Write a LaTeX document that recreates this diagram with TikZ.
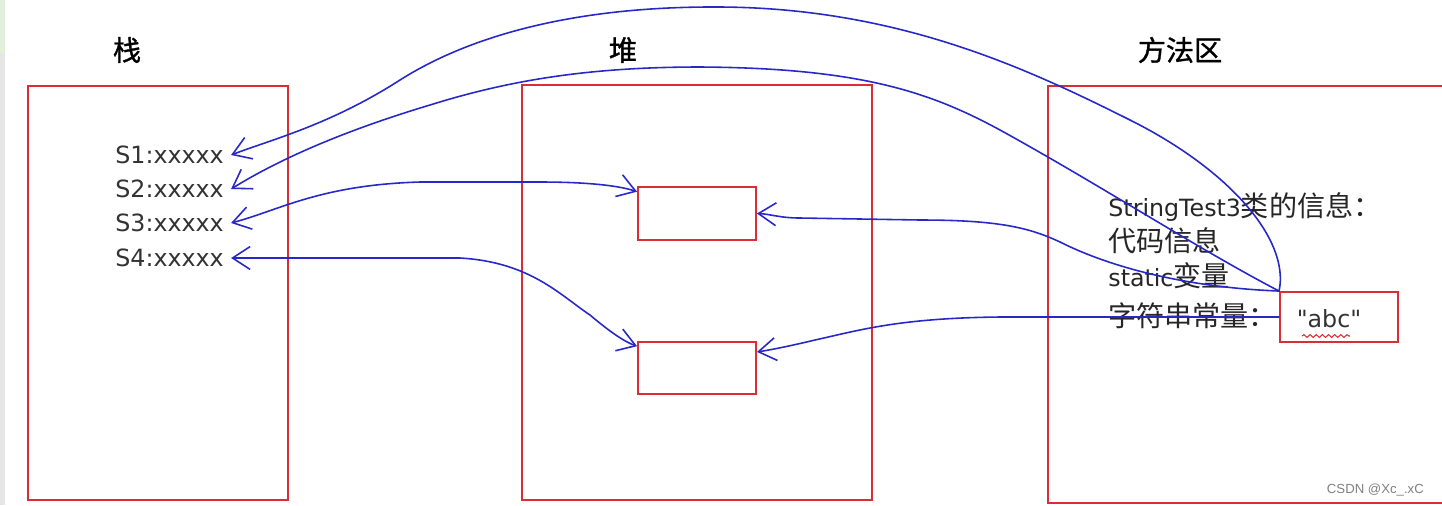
\documentclass[tikz,border=0pt]{standalone}
\usepackage{fontspec}
\newfontfamily\latin{DejaVu Sans}
\newfontfamily\cjk{Noto Sans CJK SC}
\newfontfamily\cjkb[FakeBold=1.2]{Noto Sans CJK SC}
\newfontfamily\wm{Liberation Sans}
\usetikzlibrary{arrows.meta,decorations.pathmorphing}
\definecolor{pen}{RGB}{40,40,200}
\definecolor{frame}{RGB}{218,45,55}
\definecolor{stripa}{RGB}{226,239,218}
\definecolor{stripb}{RGB}{230,230,230}
\newcommand{\lat}{\latin\fontsize{13.5}{16}\selectfont}

\begin{document}
\begin{tikzpicture}[x=0.02cm, y=-0.02cm,
    area/.style={draw=frame, line width=1.1pt},
    cell/.style={draw=frame, line width=1.1pt, minimum width=2.36cm, minimum height=1.05cm, inner sep=0pt},
    title/.style={font=\cjkb\fontsize{16}{18}\selectfont},
    var/.style={font=\lat, text=black!80, anchor=west, inner xsep=4pt},
    info/.style={font=\cjk\fontsize{16}{18}\selectfont, text=black!85, anchor=west, inner xsep=4pt},
    pointer/.style={draw=pen, line width=0.9pt, line cap=round, -{Straight Barb[length=10pt,width=13pt]}},
    twoway/.style={pointer, {Straight Barb[length=10pt,width=13pt]}-{Straight Barb[length=10pt,width=13pt]}}]
  \useasboundingbox (0,0) rectangle (1442,505);
  \fill[stripa] (0,0) rectangle (5,53);
  \fill[stripb] (0,53) rectangle (5,505);

  \draw[area] (28,86) rectangle (288,500);
  \draw[area] (522,85) rectangle (872,500);
  \draw[area] (1442,86) -- (1048,86) -- (1048,503) -- (1442,503);

  \node[title] (stack) at (127,50) {栈};
  \node[title] (heap) at (623,50) {堆};
  \node[title] (method) at (1180,50) {方法区};

  \node[var] (s1) at (108,155) {S1:xxxxx};
  \node[var] (s2) at (108,189) {S2:xxxxx};
  \node[var] (s3) at (108,223) {S3:xxxxx};
  \node[var] (s4) at (108,258) {S4:xxxxx};

  \node[cell] (obj1) at (697,213.5) {};
  \node[cell] (obj2) at (697,368) {};

  \node[info] (cls) at (1101,207) {{\lat StringTest3}类的信息：};
  \node[info] (code) at (1101,241) {代码信息};
  \node[info] (stat) at (1101,276) {{\lat static}变量};
  \node[info] (pool) at (1101,316) {字符串常量：};
  \node[cell, minimum height=1cm] (abc) at (1339,317) {};
  \node[var, anchor=center] (lit) at (1329,319) {"abc"};
  \draw[frame, line width=0.6pt, decorate, decoration={snake, amplitude=0.8pt, segment length=3.5pt}] (1302,336) -- (1350,336);

  \draw[pointer] (abc.north west) .. controls (1290,240) and (1230,170) .. (1130,120)
    .. controls (1030,70) and (900,8) .. (720,7) .. controls (560,6) and (460,42) .. (400,80)
    .. controls (330,125) and (270,140) .. (s1.east);
  \draw[pointer] (abc.north west) .. controls (1200,250) and (1100,185) .. (1000,130)
    .. controls (930,92) and (860,68) .. (700,67) .. controls (590,67) and (510,80) .. (430,105)
    .. controls (330,135) and (270,165) .. (s2.east);
  \draw[twoway] (s3.east) .. controls (280,210) and (320,185) .. (420,182) -- (540,182)
    .. controls (590,182) and (620,186) .. (obj1.160);
  \draw[twoway] (s4.east) -- (460,258) .. controls (530,262) and (560,295) .. (590,315)
    .. controls (610,332) and (625,342) .. (obj2.160);
  \draw[pointer] (abc.north west) .. controls (1200,288) and (1120,272) .. (1060,242)
    .. controls (1030,228) and (1000,220) .. (920,220) -- (800,218)
    .. controls (780,218) and (770,214) .. (obj1.east);
  \draw[pointer] (abc.west) -- (1000,317) .. controls (900,318) and (860,330) .. (815,340)
    .. controls (790,346) and (770,350) .. (obj2.15);

  \node[font=\wm\fontsize{7.5}{9}\selectfont, text=black!50, anchor=east] (mark) at (1430,490) {CSDN @Xc\_.xC};
\end{tikzpicture}
\end{document}
